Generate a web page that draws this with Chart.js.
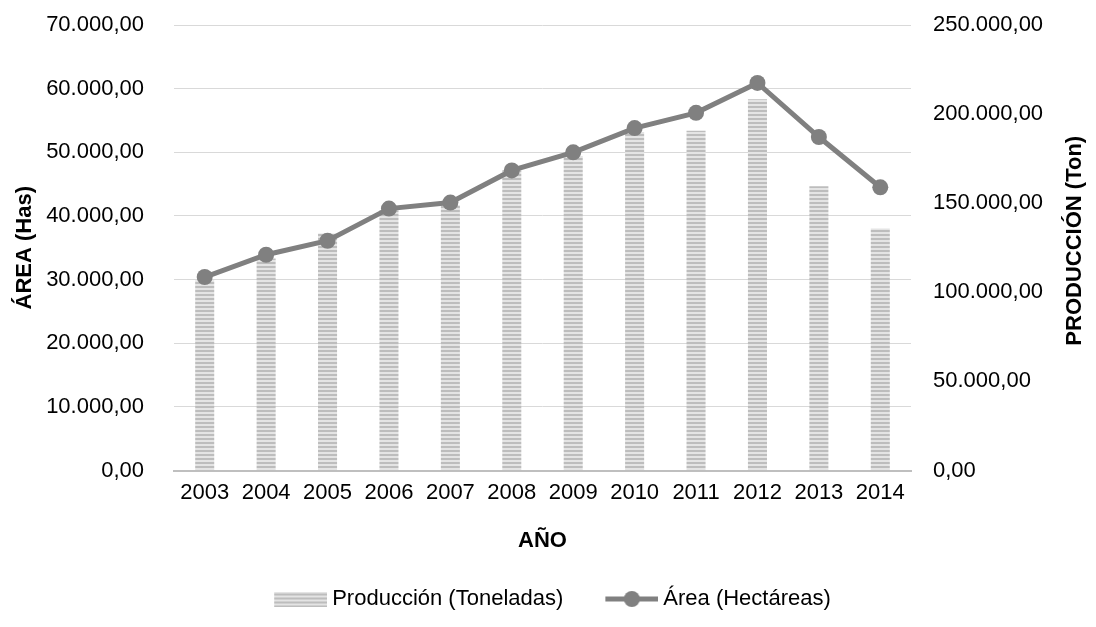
<!DOCTYPE html>
<html>
<head>
<meta charset="utf-8">
<script src="https://cdn.jsdelivr.net/npm/chart.js@4"></script>
<style>
  html, body { margin: 0; padding: 0; background: #fff; }
  #wrap { width: 1096px; height: 627px; position: relative; }
</style>
</head>
<body>
<div id="wrap"><canvas id="chart"></canvas></div>
<script>
const years = ['2003','2004','2005','2006','2007','2008','2009','2010','2011','2012','2013','2014'];
const produccion = [106700, 119000, 133000, 146000, 148900, 168500, 176500, 190000, 190600, 208400, 159500, 135800];
const area = [30400, 33900, 36100, 41150, 42100, 47150, 50000, 53800, 56200, 60900, 52400, 44500];
const areaTicks = [0, 10000, 20000, 30000, 40000, 50000, 60000, 70000];
const prodTicks = [0, 50000, 100000, 150000, 200000, 250000];

const FONT = "'Liberation Sans Narrow', 'Arial Narrow', 'Liberation Sans', sans-serif";
const GREY = '#808080';
const SIZE = 22;

// number like 70.000,00
function fmt(v) {
  const s = Math.round(v).toString().replace(/\B(?=(\d{3})+(?!\d))/g, '.');
  return s + ',00';
}

// striped fill for the bars
function stripes() {
  const c = document.createElement('canvas');
  c.width = 4; c.height = 4;
  const g = c.getContext('2d');
  g.fillStyle = '#e4e4e4'; g.fillRect(0, 0, 4, 4);
  g.fillStyle = '#bdbdbd'; g.fillRect(0, 2, 4, 2);
  return g.createPattern(c, 'repeat');
}
const pattern = stripes();

// legend images: 84 wide, swatch sits in the right 53px
function barSwatch() {
  const c = document.createElement('canvas');
  c.width = 84; c.height = 15;
  const g = c.getContext('2d');
  g.fillStyle = pattern; g.fillRect(31, 0, 53, 15);
  return c;
}
function lineSwatch() {
  const c = document.createElement('canvas');
  c.width = 84; c.height = 18;
  const g = c.getContext('2d');
  g.strokeStyle = GREY; g.lineWidth = 5;
  g.beginPath(); g.moveTo(31, 9); g.lineTo(84, 9); g.stroke();
  g.fillStyle = GREY;
  g.beginPath(); g.arc(57.5, 9, 8, 0, Math.PI * 2); g.fill();
  return c;
}

// right axis title reads bottom-to-top like the left one
const rightTitle = {
  id: 'rightTitle',
  afterLayout(chart) {
    chart.legend.right -= 16; // nudge legend a bit to the left
  },
  afterDraw(chart) {
    const ctx = chart.ctx;
    const a = chart.chartArea;
    ctx.save();
    ctx.translate(1075, (a.top + a.bottom) / 2 - 7);
    ctx.rotate(-Math.PI / 2);
    ctx.font = 'bold ' + SIZE + 'px ' + FONT;
    ctx.fillStyle = '#000';
    ctx.textAlign = 'center';
    ctx.textBaseline = 'middle';
    ctx.fillText('PRODUCCIÓN (Ton)', 0, 0);
    ctx.restore();
  }
};

function noVPad(s) {
  s.paddingTop = 0;
  s.paddingBottom = 0;
}

new Chart(document.getElementById('chart'), {
  data: {
    labels: years,
    datasets: [
      {
        type: 'line',
        label: 'Área (Hectáreas)',
        data: area,
        yAxisID: 'y',
        borderColor: GREY,
        backgroundColor: GREY,
        borderWidth: 5,
        pointRadius: 8,
        pointBackgroundColor: GREY,
        pointBorderWidth: 0,
        tension: 0
      },
      {
        type: 'bar',
        label: 'Producción (Toneladas)',
        data: produccion,
        yAxisID: 'y1',
        backgroundColor: pattern,
        categoryPercentage: 1,
        barPercentage: 0.31
      }
    ]
  },
  options: {
    responsive: true,
    maintainAspectRatio: false,
    animation: false,
    layout: { padding: { top: 25, bottom: 7, left: 0, right: 0 } },
    plugins: {
      tooltip: { enabled: false },
      legend: {
        position: 'bottom',
        labels: {
          usePointStyle: true,
          pointStyleWidth: 72,
          padding: 17,
          color: '#000',
          font: { family: FONT, size: SIZE },
          generateLabels() {
            return [
              { text: 'Producción (Toneladas)', pointStyle: barSwatch(), datasetIndex: 1, fillStyle: pattern, strokeStyle: 'transparent', lineWidth: 0, fontColor: '#000' },
              { text: 'Área (Hectáreas)', pointStyle: lineSwatch(), datasetIndex: 0, fillStyle: GREY, strokeStyle: 'transparent', lineWidth: 0, fontColor: '#000' }
            ];
          }
        }
      }
    },
    scales: {
      x: {
        grid: { display: false, drawTicks: false },
        border: { display: true, color: '#bfbfbf', width: 2 },
        ticks: { color: '#000', font: { family: FONT, size: SIZE }, padding: 9, maxRotation: 0 },
        title: { display: true, text: 'AÑO', color: '#000', font: { family: FONT, size: SIZE, weight: 'bold' }, padding: { top: 0, bottom: 17 } },
        afterFit(s) { s.height = 100.5; }
      },
      y: {
        position: 'left',
        min: 0, max: 70000,
        afterBuildTicks(s) { s.ticks = areaTicks.map(v => ({ value: v })); },
        grid: { color: '#d9d9d9', lineWidth: 1, drawTicks: false },
        border: { display: false },
        ticks: { color: '#000', font: { family: FONT, size: SIZE }, padding: 30, callback: v => fmt(v) },
        title: { display: true, text: 'ÁREA (Has)', color: '#000', font: { family: FONT, size: SIZE, weight: 'bold' }, padding: { top: 12, bottom: 0 } },
        afterFit(s) { s.width = 174; noVPad(s); }
      },
      y1: {
        position: 'right',
        min: 0, max: 250000,
        afterBuildTicks(s) { s.ticks = prodTicks.map(v => ({ value: v })); },
        grid: { display: false, drawTicks: false },
        border: { display: false },
        ticks: { color: '#000', font: { family: FONT, size: SIZE }, padding: 22, callback: v => fmt(v) },
        afterFit(s) { s.width = 185; noVPad(s); }
      }
    }
  },
  plugins: [rightTitle]
});
</script>
</body>
</html>
